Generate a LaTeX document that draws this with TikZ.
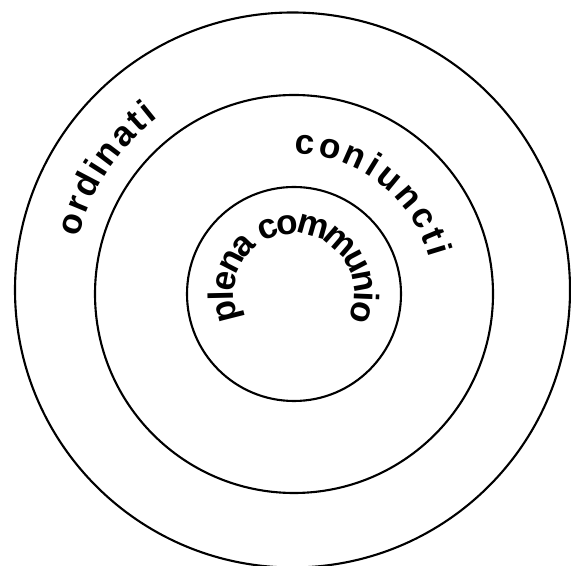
\documentclass[tikz,border=0pt]{standalone}
\usepackage{fontspec}
\setmainfont{Liberation Sans}
\usetikzlibrary{decorations.text}
\newcommand{\ringfont}{\fontsize{30}{30}\selectfont\bfseries}
\tikzset{
  ring/.style={draw=black, line width=1.8pt},
  arclabel/.style={decorate, decoration={text along path, text align=fit to path, raise=-7.9pt, text={|\ringfont|#1}}},
}

\begin{document}
\begin{tikzpicture}[x=0.03cm, y=0.03cm]
  \useasboundingbox (0,0) rectangle (571,565);
  \coordinate (mid) at (294,271);
  \coordinate (outer) at (292.5,275);

  % the three rings
  \draw[ring] (outer) circle[radius=277.5];
  \draw[ring] (mid) circle[radius=199];
  \draw[ring] (mid) circle[radius=107];

  % labels along the rings
  \path[arclabel=ordinati] (mid) ++(165.3:232) arc[start angle=165.3, end angle=127.6, radius=232];
  \path[arclabel=coniuncti] (mid) ++(89.6:149) arc[start angle=89.6, end angle=15.2, radius=149];
  \path[arclabel={plena communio}, decoration={raise=-11pt}] (mid) ++(202.5:73) arc[start angle=202.5, end angle=-23.5, radius=73];
\end{tikzpicture}
\end{document}
